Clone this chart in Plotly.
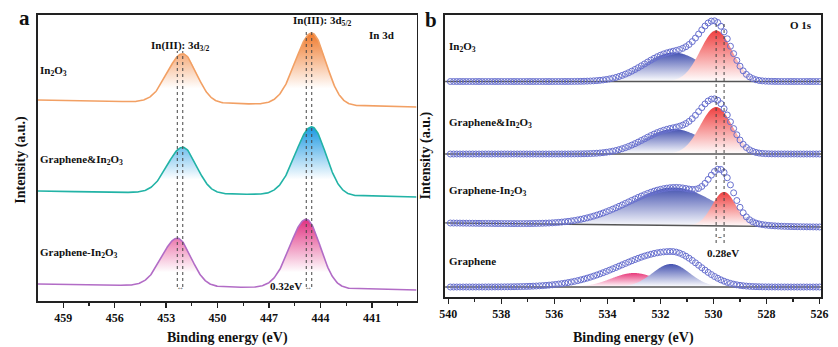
import numpy as np
import plotly.graph_objects as go

# ---------------- Panel a : In 3d ----------------
a_samples = ["In<sub>2</sub>O<sub>3</sub>", "Graphene&In<sub>2</sub>O<sub>3</sub>", "Graphene-In<sub>2</sub>O<sub>3</sub>"]
a_base_left = [201, 110, 17]      # background intensity at 460.5 eV
a_base_right = [194, 104, 11]     # background intensity at 438.4 eV
a_p32_center = [452.03, 452.03, 452.35]
a_p32_height = [49, 46, 48]
a_p52_center = [444.51, 444.51, 444.83]
a_p52_height = [72, 68.5, 69]
a_sigma_hi = [0.9, 0.95]          # (3d3/2, 3d5/2) width on high-BE side
a_sigma_lo = [0.8, 0.82]          # (3d3/2, 3d5/2) width on low-BE side
a_ticks = [459, 456, 453, 450, 447, 444, 441]

# ---------------- Panel b : O 1s ----------------
b_samples = ["In<sub>2</sub>O<sub>3</sub>", "Graphene&In<sub>2</sub>O<sub>3</sub>", "Graphene-In<sub>2</sub>O<sub>3</sub>", "Graphene"]
b_base_left = [215.5, 143, 74, 10]   # at 540 eV
b_base_right = [215.5, 143, 70, 10]  # at 526 eV
# fitted components (center, height, sigma_hi, sigma_lo); first = higher BE component
b_comp_hi = [(531.5, 29, 1.1, 1.1), (531.5, 25, 1.1, 1.1), (531.5, 38, 1.6, 1.6), (533.0, 14, 0.85, 0.85)]
b_comp_lo = [(529.9, 51, 0.6, 0.6), (529.9, 47, 0.6, 0.6), (529.6, 34, 0.45, 0.45), (531.6, 23, 0.7, 0.7)]
# measured spectrum envelope (center, height, sigma_hi, sigma_lo)
b_env = [
    [(531.5, 29, 1.1, 1.1), (529.9, 50, 0.6, 0.55)],
    [(531.5, 25, 1.1, 1.1), (529.9, 46, 0.6, 0.55)],
    [(531.4, 38, 1.8, 1.3), (529.7, 40, 0.45, 0.45)],
    [(531.6, 35.5, 1.9, 1.05)],
]
b_ticks = [540, 538, 536, 534, 532, 530, 528, 526]

# ---------------- styles ----------------
FONT = "Liberation Serif, Times New Roman, serif"
a_line_colors = ["#f2a064", "#22b3a6", "#b26cc6"]
a_fill_colors = ["#f07a2c", "#1a98e2", "#e02f80"]
b_hi_colors = ["#4452b0", "#4452b0", "#4452b0", "#e8397a"]
b_lo_colors = ["#ef3f3f", "#ef3f3f", "#ef3f3f", "#4452b0"]
MARK = "#6870cf"


def split_gauss(x, c, h, s_hi, s_lo):
    s = np.where(x >= c, s_hi, s_lo)
    return h * np.exp(-((x - c) ** 2) / (2 * s ** 2))


fig = go.Figure()

# panel a
xa = np.arange(438.4, 460.51, 0.04)
for i in range(3):
    base = a_base_right[i] + (a_base_left[i] - a_base_right[i]) * (xa - 438.4) / (460.5 - 438.4)
    y = base + split_gauss(xa, a_p32_center[i], a_p32_height[i], a_sigma_hi[0], a_sigma_lo[0]) \
        + split_gauss(xa, a_p52_center[i], a_p52_height[i], a_sigma_hi[1], a_sigma_lo[1])
    fig.add_trace(go.Scatter(
        x=np.concatenate([xa, xa[::-1]]), y=np.concatenate([y, base[::-1]]),
        fill="toself", mode="none", xaxis="x", yaxis="y",
        fillgradient=dict(type="vertical", colorscale=[[0, "rgba(255,255,255,1)"], [0.25, "rgba(255,255,255,1)"], [1, a_fill_colors[i]]]),
        hoverinfo="skip", showlegend=False))
    fig.add_trace(go.Scatter(x=xa, y=y, mode="lines", line=dict(color=a_line_colors[i], width=1.6),
                             xaxis="x", yaxis="y", hoverinfo="skip", showlegend=False))

# panel b
xb = np.arange(525.94, 540.13, 0.02)
xp = np.arange(526.0, 540.01, 0.12)
for i in range(4):
    def bl(x):
        return b_base_right[i] + (b_base_left[i] - b_base_right[i]) * (x - 526) / 14
    base = bl(xb)
    for comp, col in ((b_comp_hi[i], b_hi_colors[i]), (b_comp_lo[i], b_lo_colors[i])):
        yc = base + split_gauss(xb, *comp)
        fig.add_trace(go.Scatter(
            x=np.concatenate([xb, xb[::-1]]), y=np.concatenate([yc, base[::-1]]),
            fill="toself", mode="none", xaxis="x2", yaxis="y2",
            fillgradient=dict(type="vertical", colorscale=[[0, "rgba(255,255,255,1)"], [1, col]]),
            hoverinfo="skip", showlegend=False))
    fig.add_trace(go.Scatter(x=xb, y=base, mode="lines", line=dict(color="#555555", width=1.3),
                             xaxis="x2", yaxis="y2", hoverinfo="skip", showlegend=False))
    ye = bl(xp) + sum(split_gauss(xp, *p) for p in b_env[i])
    fig.add_trace(go.Scatter(x=xp, y=ye, mode="markers",
                             marker=dict(symbol="circle-open", size=6, color=MARK, line=dict(width=1, color=MARK)),
                             xaxis="x2", yaxis="y2", hoverinfo="skip", showlegend=False))

shapes = []
def vdot(x, y0, y1, xr, yr):
    shapes.append(dict(type="line", xref=xr, yref=yr, x0=x, x1=x, y0=y0, y1=y1,
                       line=dict(color="#444444", width=1, dash="dot")))

vdot(a_p32_center[2], 14, 250, "x", "y")
vdot(a_p32_center[0], 14, 250, "x", "y")
vdot(a_p52_center[2], 14, 271, "x", "y")
vdot(a_p52_center[0], 14, 271, "x", "y")
vdot(529.9, 54, 275, "x2", "y2")
vdot(529.6, 54, 275, "x2", "y2")

ann = []
def txt(x, y, s, xr, yr, size=11, xanchor="left", **kw):
    ann.append(dict(x=x, y=y, xref=xr, yref=yr, text=s, showarrow=False, xanchor=xanchor,
                    yanchor="middle", font=dict(family=FONT, size=size, color="#111111"), **kw))

# panel a texts
txt(460.45, 230, "<b>" + a_samples[0] + "</b>", "x", "y")
txt(460.45, 141, "<b>" + a_samples[1] + "</b>", "x", "y")
txt(460.45, 48, "<b>" + a_samples[2] + "</b>", "x", "y")
txt(452.15, 255, "<b>In(III): 3d<sub>3/2</sub></b>", "x", "y", xanchor="center")
txt(443.9, 280, "<b>In(III): 3d<sub>5/2</sub></b>", "x", "y", xanchor="center")
txt(439.6, 266, "<b>In 3d</b>", "x", "y", xanchor="right")
txt(444.95, 15, "<b>0.32eV</b>", "x", "y", xanchor="right")
txt(452.19, 13, "⇔", "x", "y", size=7, xanchor="center")
txt(444.67, 13, "⇔", "x", "y", size=7, xanchor="center")
# panel b texts
txt(540.05, 250, "<b>" + b_samples[0] + "</b>", "x2", "y2")
txt(540.05, 174, "<b>" + b_samples[1] + "</b>", "x2", "y2")
txt(540.05, 106, "<b>" + b_samples[2] + "</b>", "x2", "y2")
txt(540.05, 36, "<b>" + b_samples[3] + "</b>", "x2", "y2")
txt(526.2, 272, "<b>O 1s</b>", "x2", "y2", xanchor="right")
txt(529.65, 44, "<b>0.28eV</b>", "x2", "y2", xanchor="center")
txt(529.75, 60, "⇔", "x2", "y2", size=6, xanchor="center")
# axis titles & panel letters
txt((32 + 417) / 2 / 838, 1 - 338 / 347, "<b>Binding energy (eV)</b>", "paper", "paper", size=14, xanchor="center")
txt((446 + 828) / 2 / 838, 1 - 338 / 347, "<b>Binding energy (eV)</b>", "paper", "paper", size=14, xanchor="center")
txt(15 / 838, 1 - 160 / 347, "<b>Intensity (a.u.)</b>", "paper", "paper", size=14, xanchor="center", textangle=-90)
txt(427 / 838, 1 - 155 / 347, "<b>Intensity (a.u.)</b>", "paper", "paper", size=14, xanchor="center", textangle=-90)
txt(19 / 838, 1 - 18 / 347, "<b>a</b>", "paper", "paper", size=21, xanchor="center")
txt(432 / 838, 1 - 20 / 347, "<b>b</b>", "paper", "paper", size=21, xanchor="center")

axis_common = dict(showline=True, mirror=True, linewidth=1.6, linecolor="#222222", showgrid=False, zeroline=False)
fig.update_layout(
    width=838, height=347, margin=dict(l=0, r=0, t=0, b=0),
    paper_bgcolor="white", plot_bgcolor="white", showlegend=False,
    shapes=shapes, annotations=ann,
    xaxis=dict(domain=[32 / 838, 417 / 838], range=[460.5, 438.4], tickmode="array", tickvals=a_ticks,
               ticks="outside", ticklen=5, tickwidth=1.3, tickcolor="#222222",
               minor=dict(tickmode="array", tickvals=[457.5, 454.5, 451.5, 448.5, 445.5, 442.5, 439.5], ticks="outside", ticklen=3, tickwidth=1.2, tickcolor="#222222"),
               tickfont=dict(family=FONT, size=12, color="#111111", weight="bold"), anchor="y", **axis_common),
    yaxis=dict(domain=[1 - 301 / 347, 1 - 15 / 347], range=[0, 286], showticklabels=False, ticks="", anchor="x", **axis_common),
    xaxis2=dict(domain=[446 / 838, 828 / 838], range=[540.12, 525.94], tickmode="array", tickvals=b_ticks,
                ticks="outside", ticklen=5, tickwidth=1.3, tickcolor="#222222",
                minor=dict(tickmode="array", tickvals=[539, 537, 535, 533, 531, 529, 527], ticks="outside", ticklen=3, tickwidth=1.2, tickcolor="#222222"),
                tickfont=dict(family=FONT, size=12, color="#111111", weight="bold"), anchor="y2", **axis_common),
    yaxis2=dict(domain=[1 - 297 / 347, 1 - 15 / 347], range=[0, 282], showticklabels=False, ticks="", anchor="x2", **axis_common),
)
fig.write_html("out.html", config={"displayModeBar": False, "staticPlot": True},
               post_script="document.body.style.margin='0';document.body.style.overflow='hidden';")
